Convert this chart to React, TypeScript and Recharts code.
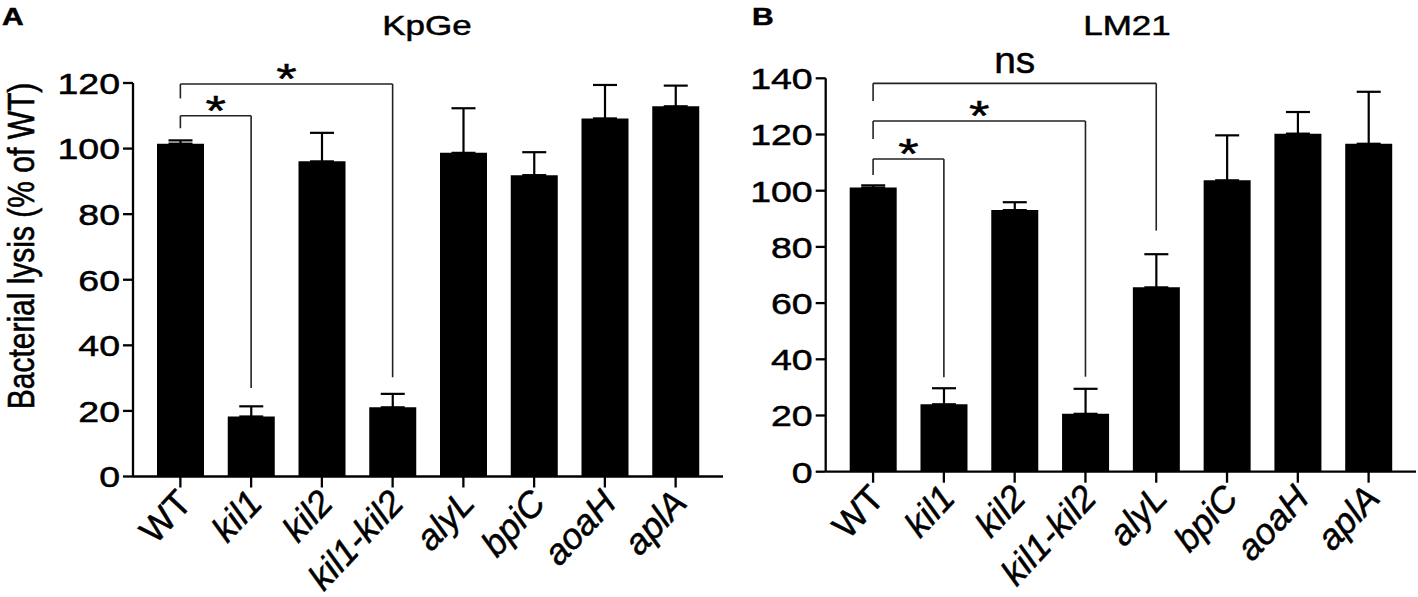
import React from 'react';
import { BarChart, Bar, XAxis, YAxis, ErrorBar, ReferenceLine } from 'recharts';

// strains tested, same order in both panels
const strains = ['WT', 'kil1', 'kil2', 'kil1-kil2', 'alyL', 'bpiC', 'aoaH', 'aplA'];

// panel A: KpGe, mean and upper SEM (% of WT)
const kpgeMean = [101.5, 18.3, 96.1, 21.1, 98.7, 91.9, 109.2, 112.9];
const kpgeSem = [1.0, 3.1, 8.7, 4.1, 13.6, 7.0, 10.2, 6.3];
const kpgeTicks = [0, 20, 40, 60, 80, 100, 120];

// panel B: LM21
const lm21Mean = [101.1, 24.0, 93.1, 20.6, 65.6, 103.7, 120.3, 116.7];
const lm21Sem = [0.8, 5.7, 2.8, 8.9, 11.8, 16.0, 7.7, 18.5];
const lm21Ticks = [0, 20, 40, 60, 80, 100, 120, 140];

// significance brackets: level of the bar, where each leg stops, and the mark
const kpgeBrackets = [
  { from: 'WT', to: 'kil1', level: 110, fromEnd: 106.2, toEnd: 27, mark: '*' },
  { from: 'WT', to: 'kil1-kil2', level: 119.7, fromEnd: 115.3, toEnd: 30.3, mark: '*' },
];
const lm21Brackets = [
  { from: 'WT', to: 'kil1', level: 111.3, fromEnd: 105.6, toEnd: 33.6, mark: '*' },
  { from: 'WT', to: 'kil1-kil2', level: 124.8, fromEnd: 118.4, toEnd: 33.8, mark: '*' },
  { from: 'WT', to: 'alyL', level: 138.2, fromEnd: 131.9, toEnd: 85.8, mark: 'ns' },
];

const FONT = '"Liberation Sans", Arial, Helvetica, sans-serif';
const STRETCH = 1.25;
const ink = { fill: '#000', stroke: '#000', strokeWidth: 0.5 };

const toRows = (mean: number[], sem: number[]) =>
  strains.map((name, i) => ({ name, value: mean[i], err: [0, sem[i]] }));

const YTick = (props: any) => {
  const { x, y, payload } = props;
  return (
    <g transform={`translate(${x},${y}) scale(${STRETCH},1)`}>
      <text x={0} y={0} dy="0.36em" textAnchor="end" fontSize={30} fontFamily={FONT} {...ink}>
        {payload.value}
      </text>
    </g>
  );
};

const XTick = (props: any) => {
  const { x, y, payload } = props;
  const italic = payload.value !== 'WT';
  return (
    <g transform={`translate(${x + 13},${y + 15}) rotate(-47)`}>
      <text x={0} y={0} textAnchor="end" fontSize={36} fontFamily={FONT}
        fontStyle={italic ? 'italic' : 'normal'} {...ink}>
        {payload.value}
      </text>
    </g>
  );
};

const markLabel = (mark: string) => (props: any) => {
  const vb = props.viewBox || {};
  const cx = vb.x1 != null ? (vb.x1 + vb.x2) / 2 : vb.x + vb.width / 2;
  const cy = vb.y1 != null ? Math.min(vb.y1, vb.y2) : vb.y;
  const star = mark === '*';
  return (
    <g transform={`translate(${cx},${star ? cy + 9 : cy - 10}) scale(${star ? STRETCH : 1.05},1)`}>
      <text x={0} y={0} textAnchor="middle" fontSize={star ? 42 : 37} fontFamily={FONT} {...ink}>
        {mark}
      </text>
    </g>
  );
};

const bracketLines = (brackets: typeof kpgeBrackets) =>
  brackets.flatMap((b, i) => [
    <ReferenceLine key={`h${i}`} segment={[{ x: b.from, y: b.level }, { x: b.to, y: b.level }]}
      stroke="#222" strokeWidth={1.6} label={markLabel(b.mark)} />,
    <ReferenceLine key={`l${i}`} segment={[{ x: b.from, y: b.fromEnd }, { x: b.from, y: b.level }]}
      stroke="#222" strokeWidth={1.6} />,
    <ReferenceLine key={`r${i}`} segment={[{ x: b.to, y: b.toEnd }, { x: b.to, y: b.level }]}
      stroke="#222" strokeWidth={1.6} />,
  ]);

const axisStroke = { stroke: '#000', strokeWidth: 2.3 };

interface PanelProps {
  rows: { name: string; value: number; err: number[] }[];
  ticks: number[];
  brackets: typeof kpgeBrackets;
  width: number;
  axisWidth: number;
  top: number;
  bottom: number;
  right: number;
  yLabel?: string;
}

const Panel: React.FC<PanelProps> = ({ rows, ticks, brackets, width, axisWidth, top, bottom, right, yLabel }) => (
  <BarChart width={width} height={597} data={rows}
    margin={{ top, right, bottom: bottom - 30, left: 0 }} barSize={47}>
    <XAxis dataKey="name" interval={0} height={30} padding={{ left: 12, right: 12 }}
      axisLine={axisStroke} tickLine={axisStroke} tickSize={11} tick={<XTick />} />
    <YAxis domain={[ticks[0], ticks[ticks.length - 1]]} ticks={ticks} interval={0} width={axisWidth}
      axisLine={axisStroke} tickLine={axisStroke} tickSize={10} tickMargin={3} tick={<YTick />}
      label={yLabel ? () => (
        <g transform={`translate(34,${top + 163}) scale(${STRETCH},1) rotate(-90)`}>
          <text x={0} y={0} textAnchor="middle" fontSize={30} fontFamily={FONT} {...ink}>{yLabel}</text>
        </g>
      ) : undefined} />
    <Bar dataKey="value" fill="#000" isAnimationActive={false}>
      <ErrorBar dataKey="err" direction="y" width={12} stroke="#000" strokeWidth={2.2} isAnimationActive={false} />
    </Bar>
    {bracketLines(brackets)}
  </BarChart>
);

const Title: React.FC<{ x: number; y: number; text: string; size: number; bold?: boolean; anchor?: string }> =
  ({ x, y, text, size, bold, anchor = 'middle' }) => (
    <g transform={`translate(${x},${y}) scale(${STRETCH},1)`}>
      <text x={0} y={0} textAnchor={anchor as any} fontSize={size} fontWeight={bold ? 700 : 400}
        fontFamily={FONT} {...ink}>{text}</text>
    </g>
  );

export default function App() {
  return (
    <div style={{ position: 'absolute', left: 0, top: 0, width: 1418, height: 597, background: '#fff', overflow: 'hidden' }}>
      <div style={{ position: 'absolute', left: 0, top: 0 }}>
        <Panel rows={toRows(kpgeMean, kpgeSem)} ticks={kpgeTicks} brackets={kpgeBrackets}
          width={730} axisWidth={133} top={83} bottom={120.5} right={7}
          yLabel="Bacterial lysis (% of WT)" />
      </div>
      <div style={{ position: 'absolute', left: 700, top: 0 }}>
        <Panel rows={toRows(lm21Mean, lm21Sem)} ticks={lm21Ticks} brackets={lm21Brackets}
          width={718} axisWidth={125.7} top={78.3} bottom={125.3} right={2} />
      </div>
      <svg style={{ position: 'absolute', left: 0, top: 0, pointerEvents: 'none' }} width={1418} height={597}>
        <Title x={2} y={25} text="A" size={24} bold anchor="start" />
        <Title x={752} y={25} text="B" size={24} bold anchor="start" />
        <Title x={427} y={35} text="KpGe" size={28} />
        <Title x={1127} y={35} text="LM21" size={28} />
      </svg>
    </div>
  );
}
